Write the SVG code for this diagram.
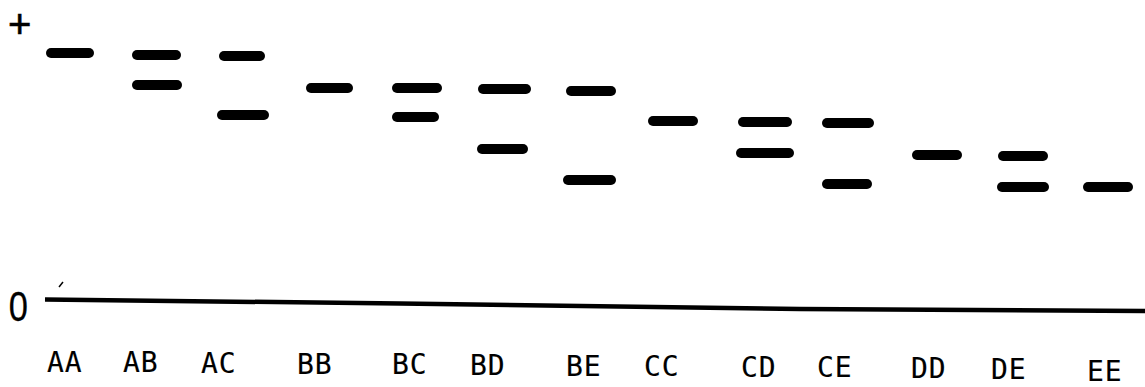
<svg xmlns="http://www.w3.org/2000/svg" width="1145" height="387" viewBox="0 0 1145 387">
<style>
.band{stroke:#000;stroke-width:10;stroke-linecap:round;fill:none}
.lbl{font-family:"DejaVu Sans Mono","Liberation Mono",monospace;font-size:28px;letter-spacing:1px;fill:#000;stroke:#000;stroke-width:0.15}
.axis{font-family:"Liberation Sans",Arial,sans-serif;fill:#000}
</style>
<rect width="1145" height="387" fill="#fff"/>
<g id="axis">
<text class="axis" x="8" y="38" font-size="40" stroke="#000" stroke-width="0.6">+</text>
<text class="axis" font-size="42" transform="translate(10,321) scale(0.82,1)" x="-1.5" y="0" stroke="#000" stroke-width="0.3">0</text>
<polyline points="45,299.5 400,303.5 800,309 1145,311" fill="none" stroke="#000" stroke-width="4.5"/>
<line x1="59" y1="287" x2="63" y2="282" stroke="#000" stroke-width="1.5"/>
</g>
<g id="lane-AA"><line class="band" x1="51" y1="53" x2="89" y2="53"/><text class="lbl" x="47" y="372">AA</text></g>
<g id="lane-AB"><line class="band" x1="137" y1="55" x2="176" y2="55"/><line class="band" x1="137" y1="85" x2="177" y2="85"/><text class="lbl" x="123" y="372">AB</text></g>
<g id="lane-AC"><line class="band" x1="224" y1="56" x2="260" y2="56"/><line class="band" x1="222" y1="115" x2="264" y2="115"/><text class="lbl" x="201" y="373">AC</text></g>
<g id="lane-BB"><line class="band" x1="311" y1="88" x2="348" y2="88"/><text class="lbl" x="297" y="374">BB</text></g>
<g id="lane-BC"><line class="band" x1="397" y1="88" x2="437" y2="88"/><line class="band" x1="397" y1="117" x2="434" y2="117"/><text class="lbl" x="392" y="374">BC</text></g>
<g id="lane-BD"><line class="band" x1="483" y1="89" x2="526" y2="89"/><line class="band" x1="482" y1="149" x2="523" y2="149"/><text class="lbl" x="470" y="375">BD</text></g>
<g id="lane-BE"><line class="band" x1="571" y1="91" x2="611" y2="91"/><line class="band" x1="568" y1="180" x2="611" y2="180"/><text class="lbl" x="566" y="376">BE</text></g>
<g id="lane-CC"><line class="band" x1="653" y1="121" x2="693" y2="121"/><text class="lbl" x="644" y="376">CC</text></g>
<g id="lane-CD"><line class="band" x1="743" y1="122" x2="787" y2="122"/><line class="band" x1="741" y1="153" x2="789" y2="153"/><text class="lbl" x="741" y="377">CD</text></g>
<g id="lane-CE"><line class="band" x1="827" y1="123" x2="869" y2="123"/><line class="band" x1="827" y1="184" x2="867" y2="184"/><text class="lbl" x="817" y="377">CE</text></g>
<g id="lane-DD"><line class="band" x1="917" y1="155" x2="957" y2="155"/><text class="lbl" x="911" y="378">DD</text></g>
<g id="lane-DE"><line class="band" x1="1003" y1="156" x2="1043" y2="156"/><line class="band" x1="1002" y1="187" x2="1044" y2="187"/><text class="lbl" x="991" y="379">DE</text></g>
<g id="lane-EE"><line class="band" x1="1088" y1="187" x2="1128" y2="187"/><text class="lbl" x="1087" y="381">EE</text></g>
<g id="connectors"/>
</svg>
